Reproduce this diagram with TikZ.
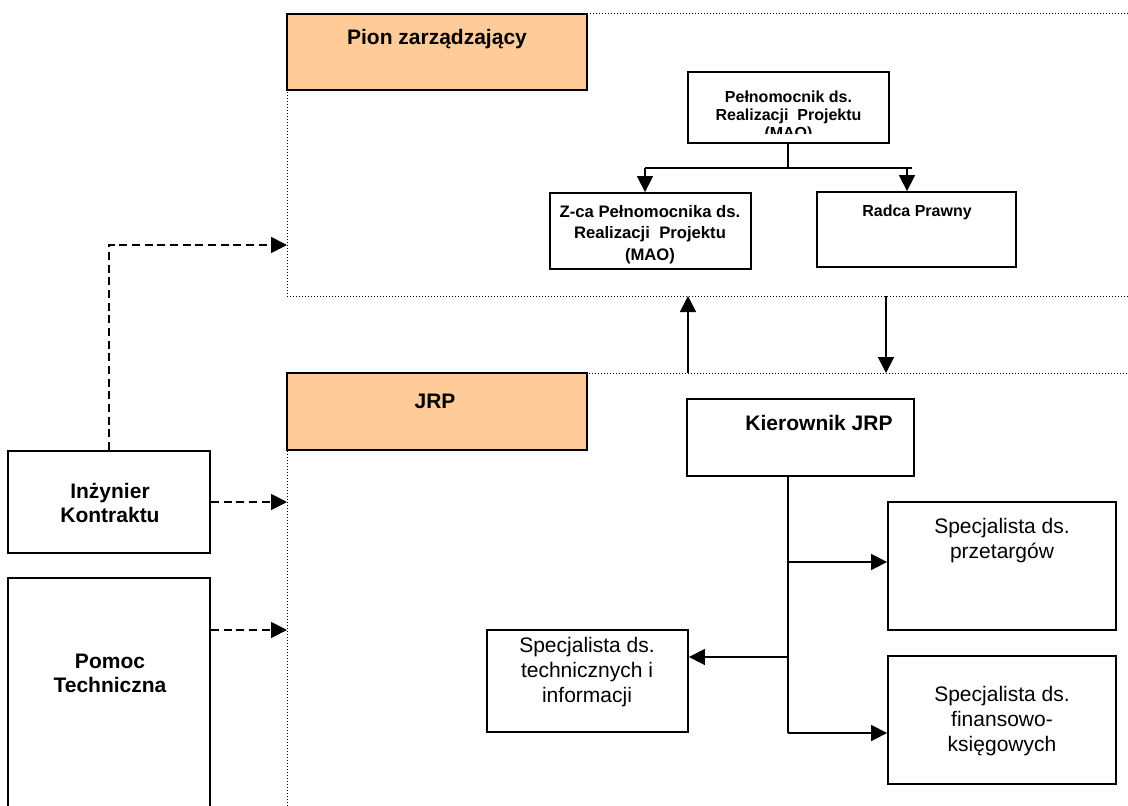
\documentclass[tikz,border=0pt]{standalone}
\usepackage{fontspec}
\setmainfont{Liberation Sans}
\usepackage{tikz}
\usetikzlibrary{arrows.meta}
\definecolor{pionfill}{HTML}{FFCC99}

\begin{document}
\begin{tikzpicture}[x=0.75pt, y=-0.75pt,
	frame/.style={line width=0.75pt, dash pattern=on 0.75pt off 1.5pt},
	box/.style={draw, line width=1.4pt, inner sep=0pt},
	head/.style={box, fill=pionfill},
	bigbold/.style={font=\fontsize{15.75}{18}\selectfont\bfseries, align=center, anchor=base, inner sep=0pt},
	smallbold/.style={font=\fontsize{12.5}{16}\selectfont\bfseries, align=center, anchor=base, inner sep=0pt},
	plain/.style={font=\fontsize{15.75}{18.5}\selectfont, align=center, anchor=base, inner sep=0pt},
	conn/.style={line width=1.3pt},
	arr/.style={conn, -{Triangle[length=12pt, width=12pt]}},
	dasharr/.style={line width=1.3pt, dash pattern=on 6pt off 3.5pt, -{Triangle[length=12pt, width=12pt]}}]
	\useasboundingbox (0,0) rectangle (1128,806);
	% Frames
	\draw[frame] (287,14) rectangle (1150,296);
	\draw[frame] (287,373) rectangle (1150,830);
	% Pion zarzadzajacy
	\node[head, minimum width=225pt, minimum height=57pt] (pion) at (437,52) {};
	\node[bigbold] (pion-txt) at (437,45) {Pion zarządzający};
	\node[box, minimum width=150.75pt, minimum height=53.25pt,
		path picture={
			\clip ([yshift=6.75pt]path picture bounding box.south west) rectangle (path picture bounding box.north east);
			\node[smallbold, font=\fontsize{12}{13.5}\selectfont\bfseries] (pelnomocnik-txt) at ([yshift=-50.25pt]path picture bounding box.north) {Pełnomocnik ds.\\Realizacji\ \ Projektu\\(MAO)};
		}] (pelnomocnik) at (788.5,107.5) {};
	\node[box, minimum width=150.75pt, minimum height=57pt] (zca) at (650.5,231) {};
	\node[smallbold] (zca-txt) at (650,260) {Z-ca Pełnomocnika ds.\\Realizacji\ \ Projektu\\(MAO)};
	\node[box, minimum width=149.25pt, minimum height=56.25pt] (radca) at (916.5,229.5) {};
	\node[smallbold, font=\fontsize{12}{13.5}\selectfont\bfseries] (radca-txt) at (917,217) {Radca Prawny};
	% JRP
	\node[head, minimum width=225pt, minimum height=57.75pt] (jrp) at (437,411.5) {};
	\node[bigbold] (jrp-txt) at (435,408) {JRP};
	\node[box, minimum width=170.25pt, minimum height=57.75pt] (kierownik) at (800.5,437.5) {};
	\node[bigbold] (kierownik-txt) at (819,430) {Kierownik JRP};
	\node[box, minimum width=171pt, minimum height=96pt] (przetargow) at (1002,566) {};
	\node[plain] (przetargow-txt) at (1002,558) {Specjalista ds.\\przetargów};
	\node[box, minimum width=171pt, minimum height=96pt] (finansowy) at (1002,720) {};
	\node[plain] (finansowy-txt) at (1002,751) {Specjalista ds.\\finansowo-\\księgowych};
	\node[box, minimum width=150.75pt, minimum height=76.5pt] (techniczny) at (587.5,681) {};
	\node[plain] (techniczny-txt) at (587,702) {Specjalista ds.\\technicznych i\\informacji};
	% Outside units
	\node[box, minimum width=151.5pt, minimum height=76.5pt] (inzynier) at (109,502) {};
	\node[bigbold] (inzynier-txt) at (110,522) {Inżynier\\Kontraktu};
	\node[box, minimum width=151.5pt, minimum height=189pt] (pomoc) at (109,704) {};
	\node[bigbold] (pomoc-txt) at (110,692) {Pomoc\\Techniczna};
	% Connectors in the upper frame
	\coordinate (bar) at (788,168);
	\coordinate (barL) at (645,168);
	\coordinate (barR) at (912,168);
	\coordinate (barA) at (907,168);
	\draw[conn] (pelnomocnik.south -| bar) -- (bar);
	\draw[conn] (barL) -- (barR);
	\draw[arr] (barL) -- (barL |- zca.north);
	\draw[arr] (barA) -- (barA |- radca.north);
	% Between the frames
	\coordinate (upS) at (688,373);
	\coordinate (upE) at (688,296);
	\coordinate (downS) at (886,296);
	\coordinate (downE) at (886,373);
	\draw[arr] (upS) -- (upE);
	\draw[arr] (downS) -- (downE);
	% Connectors in the lower frame
	\coordinate (trunk) at (788,733);
	\coordinate (tright) at (788,562);
	\coordinate (tleft) at (788,657);
	\draw[conn] (kierownik.south -| trunk) -- (trunk);
	\draw[arr] (tright) -- (tright -| przetargow.west);
	\draw[arr] (tleft) -- (tleft -| techniczny.east);
	\draw[arr] (trunk) -- (trunk -| finansowy.west);
	% Dashed links
	\coordinate (pionin) at (287,245);
	\coordinate (jrpinA) at (287,502);
	\coordinate (jrpinB) at (287,630);
	\draw[dasharr] (inzynier.north) |- (pionin);
	\draw[dasharr] (inzynier.east) -- (jrpinA);
	\draw[dasharr] (jrpinB -| pomoc.east) -- (jrpinB);
\end{tikzpicture}
\end{document}
